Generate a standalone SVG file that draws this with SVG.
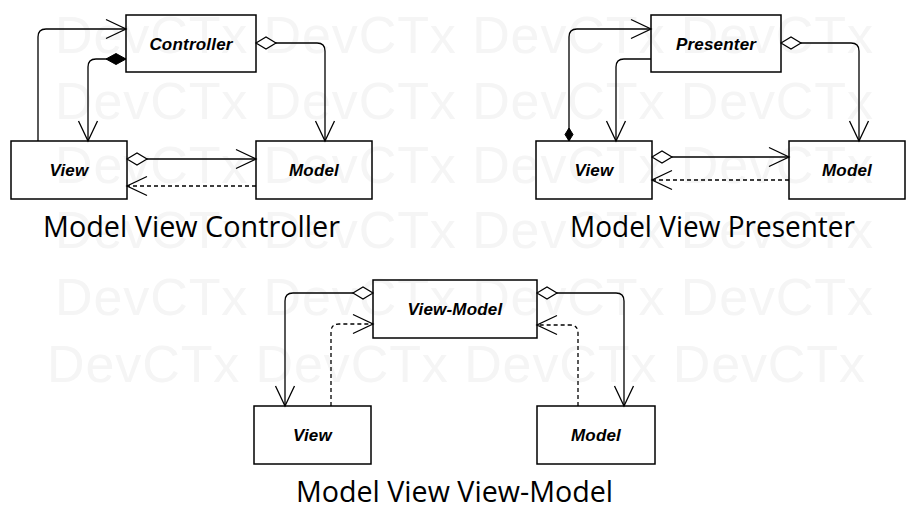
<svg xmlns="http://www.w3.org/2000/svg" width="918" height="522" viewBox="0 0 918 522">
  <style>
    .wm { font-family: "Liberation Sans", Arial, sans-serif; font-size: 52px; fill: #f5f5f5; }
    .box { fill: none; stroke: #000; stroke-width: 1.5; }
    .lbl { font-family: "Liberation Sans", Arial, sans-serif; font-size: 17px; font-weight: bold; font-style: italic; fill: #000; text-anchor: middle; letter-spacing: 0.2px; }
    .title { font-family: "Open Sans", "Liberation Sans", sans-serif; font-size: 29px; fill: #000; }
    .ln { fill: none; stroke: #000; stroke-width: 1.3; }
    .dash { stroke-dasharray: 4 3; }
  </style>
  <defs>
    <marker id="arrow" markerUnits="userSpaceOnUse" markerWidth="24" markerHeight="22" viewBox="-22 -11 24 22" refX="0" refY="0" orient="auto" overflow="visible">
      <path d="M-20,-9.5 L0,0 L-20,9.5" fill="none" stroke="#000" stroke-width="1.3"/>
    </marker>
    <marker id="odiam" markerUnits="userSpaceOnUse" markerWidth="24" markerHeight="16" viewBox="-2 -8 24 16" refX="0" refY="0" orient="auto" overflow="visible">
      <path d="M0,0 L10,-6 L20,0 L10,6 Z" fill="#fff" stroke="#000" stroke-width="1.2"/>
    </marker>
    <marker id="fdiam" markerUnits="userSpaceOnUse" markerWidth="24" markerHeight="16" viewBox="-2 -8 24 16" refX="0" refY="0" orient="auto" overflow="visible">
      <path d="M0,0 L10,-5.5 L20,0 L10,5.5 Z" fill="#000" stroke="#000" stroke-width="1"/>
    </marker>
    <marker id="fdiams" markerUnits="userSpaceOnUse" markerWidth="16" markerHeight="12" viewBox="-2 -6 16 12" refX="0" refY="0" orient="auto" overflow="visible">
      <path d="M0,0 L6.5,-4 L13,0 L6.5,4 Z" fill="#000" stroke="#000" stroke-width="1"/>
    </marker>
  </defs>

  <g id="watermark">
    <text class="wm" x="55" y="53" textLength="818" lengthAdjust="spacing">DevCTx DevCTx DevCTx DevCTx</text>
    <text class="wm" x="55" y="119" textLength="818" lengthAdjust="spacing">DevCTx DevCTx DevCTx DevCTx</text>
    <text class="wm" x="55" y="183" textLength="818" lengthAdjust="spacing">DevCTx DevCTx DevCTx DevCTx</text>
    <text class="wm" x="55" y="248" textLength="818" lengthAdjust="spacing">DevCTx DevCTx DevCTx DevCTx</text>
    <text class="wm" x="55" y="315" textLength="818" lengthAdjust="spacing">DevCTx DevCTx DevCTx DevCTx</text>
    <text class="wm" x="47" y="382" textLength="818" lengthAdjust="spacing">DevCTx DevCTx DevCTx DevCTx</text>
  </g>

  <!-- MVC -->
  <g id="mvc-controller">
    <rect class="box" x="126" y="15" width="130" height="57"/>
    <text class="lbl" x="191" y="49.5">Controller</text>
  </g>
  <g id="mvc-view">
    <rect class="box" x="11" y="141" width="116" height="58"/>
    <text class="lbl" x="69" y="175.5">View</text>
  </g>
  <g id="mvc-model">
    <rect class="box" x="256" y="141" width="116" height="58"/>
    <text class="lbl" x="314" y="175.5">Model</text>
  </g>

  <!-- MVP -->
  <g id="mvp-presenter">
    <rect class="box" x="651" y="15" width="130" height="57"/>
    <text class="lbl" x="716" y="49.5">Presenter</text>
  </g>
  <g id="mvp-view">
    <rect class="box" x="536" y="141" width="116" height="58"/>
    <text class="lbl" x="594" y="175.5">View</text>
  </g>
  <g id="mvp-model">
    <rect class="box" x="789" y="141" width="116" height="58"/>
    <text class="lbl" x="847" y="175.5">Model</text>
  </g>

  <!-- MVVM -->
  <g id="mvvm-viewmodel">
    <rect class="box" x="373" y="280" width="164" height="58"/>
    <text class="lbl" x="455" y="314.5">View-Model</text>
  </g>
  <g id="mvvm-view">
    <rect class="box" x="254" y="406" width="117" height="58"/>
    <text class="lbl" x="312.5" y="440.5">View</text>
  </g>
  <g id="mvvm-model">
    <rect class="box" x="537" y="406" width="118" height="58"/>
    <text class="lbl" x="596" y="440.5">Model</text>
  </g>

  <g id="connectors">
    <!-- MVC -->
    <path class="ln" d="M38,141 V37 Q38,29 46,29 H126" marker-end="url(#arrow)"/>
    <path class="ln" d="M126,59 H96 Q88,59 88,67 V141" marker-start="url(#fdiam)" marker-end="url(#arrow)"/>
    <path class="ln" d="M256,43 H317 Q325,43 325,51 V141" marker-start="url(#odiam)" marker-end="url(#arrow)"/>
    <path class="ln" d="M127,159 H256" marker-start="url(#odiam)" marker-end="url(#arrow)"/>
    <path class="ln dash" d="M256,186 H127" marker-end="url(#arrow)"/>
    <!-- MVP -->
    <path class="ln" d="M569,141 V37 Q569,29 577,29 H651" marker-start="url(#fdiams)" marker-end="url(#arrow)"/>
    <path class="ln" d="M651,59 H624 Q616,59 616,67 V141" marker-end="url(#arrow)"/>
    <path class="ln" d="M781,43 H851 Q859,43 859,51 V141" marker-start="url(#odiam)" marker-end="url(#arrow)"/>
    <path class="ln" d="M652,157 H789" marker-start="url(#odiam)" marker-end="url(#arrow)"/>
    <path class="ln dash" d="M789,180 H652" marker-end="url(#arrow)"/>
    <!-- MVVM -->
    <path class="ln" d="M373,293 H293 Q285,293 285,301 V406" marker-start="url(#odiam)" marker-end="url(#arrow)"/>
    <path class="ln dash" d="M331,406 V332 Q331,324 339,324 H373" marker-end="url(#arrow)"/>
    <path class="ln" d="M537,293 H616 Q624,293 624,301 V406" marker-start="url(#odiam)" marker-end="url(#arrow)"/>
    <path class="ln dash" d="M578,406 V333 Q578,325 570,325 H537" marker-end="url(#arrow)"/>
  </g>

  <g id="titles">
    <text class="title" x="43" y="237" textLength="297" lengthAdjust="spacingAndGlyphs">Model View Controller</text>
    <text class="title" x="570" y="237" textLength="285" lengthAdjust="spacingAndGlyphs">Model View Presenter</text>
    <text class="title" x="296" y="502" textLength="317" lengthAdjust="spacingAndGlyphs">Model View View-Model</text>
  </g>
</svg>
